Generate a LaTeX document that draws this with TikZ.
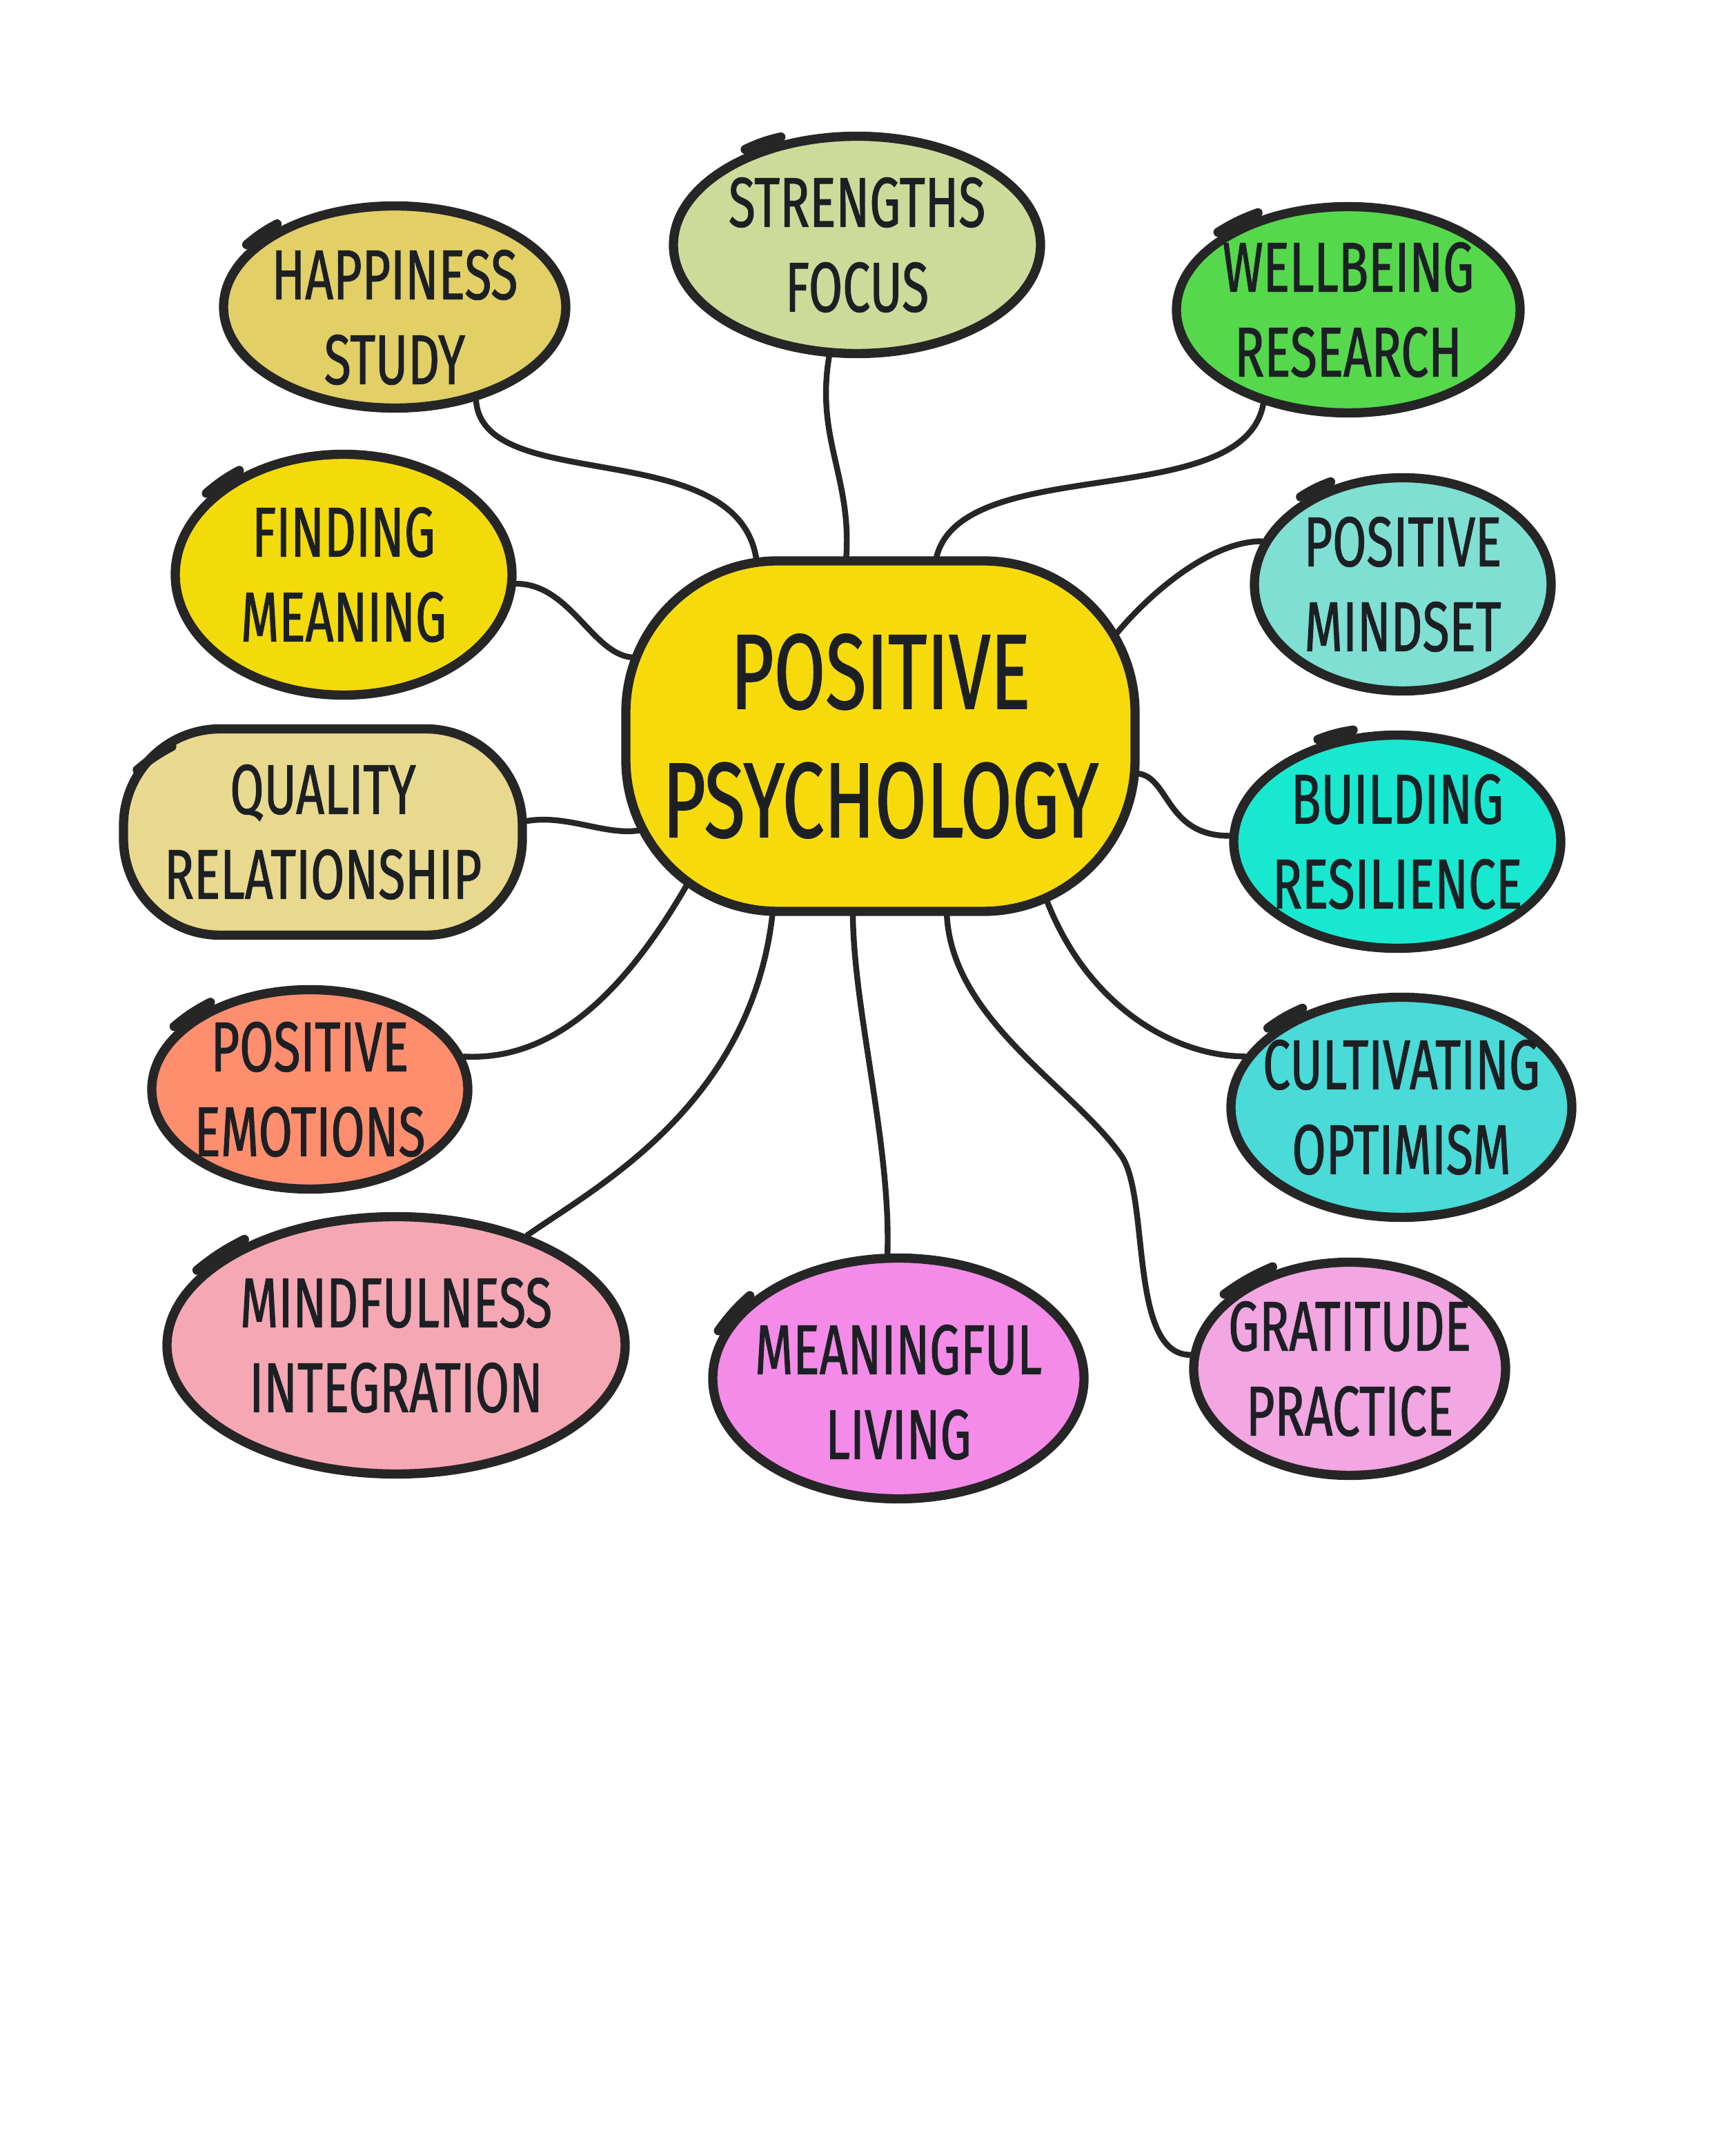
\documentclass[tikz,border=0pt]{standalone}
\usepackage{fontspec}
\usepackage{tikz}
\usetikzlibrary{shapes.geometric}
\newfontfamily\handfont{Fira Sans}[FakeStretch=0.70,FakeBold=1]
\definecolor{inkgray}{RGB}{38,38,38}
\definecolor{inkdark}{RGB}{28,32,36}
\definecolor{ppfill}{RGB}{246,218,12}
\definecolor{hsfill}{RGB}{226,207,102}
\definecolor{sffill}{RGB}{204,219,154}
\definecolor{wrfill}{RGB}{85,216,75}
\definecolor{fmfill}{RGB}{243,218,10}
\definecolor{pmfill}{RGB}{127,223,210}
\definecolor{qrfill}{RGB}{232,217,142}
\definecolor{brfill}{RGB}{25,232,208}
\definecolor{pefill}{RGB}{255,142,110}
\definecolor{cofill}{RGB}{74,218,216}
\definecolor{mifill}{RGB}{245,168,180}
\definecolor{mlfill}{RGB}{244,139,232}
\definecolor{gpfill}{RGB}{242,166,226}

\begin{document}
\begin{tikzpicture}[
    blob/.style={ellipse, draw=inkgray, line width=3.8pt, inner sep=0pt},
    tag/.style={align=center, text=inkdark, font=\handfont\fontsize{29}{35}\selectfont},
    link/.style={draw=inkgray, line width=2.4pt, line cap=round},
    tick/.style={draw=inkgray, line width=3.8pt, line cap=round}]
  \useasboundingbox (0,0) rectangle (25,31.25);

  % centre
  \node[draw=inkgray, line width=3.8pt, fill=ppfill, rounded corners=2.2cm,
        minimum width=7.38cm, minimum height=5.08cm] (pp) at (12.76,20.58) {};
  \node[tag, font=\handfont\fontsize{44}{53}\selectfont] (ppt) at (pp) {POSITIVE\\PSYCHOLOGY};

  % topics
  \node[blob, fill=hsfill, minimum width=4.96cm, minimum height=2.93cm] (hs) at (5.72,26.80) {};
  \node[blob, fill=sffill, minimum width=5.32cm, minimum height=3.15cm] (sf) at (12.42,27.70) {};
  \node[blob, fill=wrfill, minimum width=4.98cm, minimum height=2.99cm] (wr) at (19.54,26.76) {};
  \node[blob, fill=fmfill, minimum width=4.88cm, minimum height=3.49cm] (fm) at (4.98,22.92) {};
  \node[blob, fill=pmfill, minimum width=4.30cm, minimum height=3.09cm] (pm) at (20.33,22.78) {};
  \node[draw=inkgray, line width=3.8pt, fill=qrfill, rounded corners=1.4cm,
        minimum width=5.78cm, minimum height=2.99cm] (qr) at (4.68,19.19) {};
  \node[blob, fill=brfill, minimum width=4.74cm, minimum height=3.09cm] (br) at (20.25,19.05) {};
  \node[blob, fill=pefill, minimum width=4.58cm, minimum height=2.89cm] (pe) at (4.49,15.46) {};
  \node[blob, fill=cofill, minimum width=4.94cm, minimum height=3.19cm] (co) at (20.31,15.20) {};
  \node[blob, fill=mifill, minimum width=6.64cm, minimum height=3.73cm] (mi) at (5.74,11.75) {};
  \node[blob, fill=mlfill, minimum width=5.38cm, minimum height=3.49cm] (ml) at (13.02,11.27) {};
  \node[blob, fill=gpfill, minimum width=4.52cm, minimum height=3.09cm] (gp) at (19.56,11.41) {};

  % pen overshoots
  \foreach \n/\a/\b in {hs/158/146, sf/140/126, wr/150/134, fm/150/136, pm/140/126,
                        br/128/112, pe/156/140, co/150/136, mi/160/146, ml/166/152, gp/150/128}
    \draw[tick] ([shift={(-0.03,0.05)}]\n.\a) to[bend left=6] ([shift={(-0.01,0.06)}]\n.\b);
  \draw[tick] ([shift={(-2.69,0.9)}]qr.center) to[bend left=6] ([shift={(-2.19,1.24)}]qr.center);

  \node[tag] (hst) at ([yshift=-0.15cm]hs.center) {HAPPINESS\\STUDY};
  \node[tag] (sft) at (sf) {STRENGTHS\\FOCUS};
  \node[tag] (wrt) at (wr) {WELLBEING\\RESEARCH};
  \node[tag] (fmt) at (fm) {FINDING\\MEANING};
  \node[tag] (pmt) at (pm) {POSITIVE\\MINDSET};
  \node[tag] (qrt) at (qr) {QUALITY\\RELATIONSHIP};
  \node[tag] (brt) at (br) {BUILDING\\RESILIENCE};
  \node[tag] (pet) at (pe) {POSITIVE\\EMOTIONS};
  \node[tag] (cot) at (co) {CULTIVATING\\OPTIMISM};
  \node[tag] (mit) at (mi) {MINDFULNESS\\INTEGRATION};
  \node[tag] (mlt) at ([yshift=-0.2cm]ml.center) {MEANINGFUL\\LIVING};
  \node[tag] (gpt) at (gp) {GRATITUDE\\PRACTICE};

  % links
  \coordinate (gpbend) at (16.25,14.50);
  \draw[link] (hs.-49) .. controls +(0.1,-1.4) and +(-0.2,1.9) .. ([shift={(-1.79,2.5)}]pp.center);
  \draw[link] (sf.-104) .. controls +(-0.2,-1.2) and +(0.1,1.2) .. ([shift={(-0.5,2.54)}]pp.center);
  \draw[link] (wr.-132) .. controls +(-0.3,-1.6) and +(0.3,1.6) .. ([shift={(0.8,2.54)}]pp.center);
  \draw[link] (fm.-3) .. controls +(0.8,0) and +(-0.6,0) .. ([shift={(-3.56,1.14)}]pp.center);
  \draw[link] (pm.163) .. controls +(-0.8,0) and +(0.4,0.5) .. ([shift={(3.4,1.46)}]pp.center);
  \draw[link] ([yshift=0.16cm]qr.east) .. controls +(0.6,0.1) and +(-0.5,-0.1) .. ([shift={(-3.46,-1.36)}]pp.center);
  \draw[link] ([shift={(3.69,-0.54)}]pp.center) .. controls +(0.5,0) and +(-0.95,0) .. (br.178);
  \draw[link] (pe.12) .. controls +(1.2,-0.06) and +(-1.0,-1.74) .. ([shift={(-2.79,-2.13)}]pp.center);
  \draw[link] ([shift={(2.39,-2.33)}]pp.center) .. controls +(0.6,-1.6) and +(-1.0,0) .. (co.162);
  \draw[link] (mi.40) .. controls +(1.0,0.7) and +(-0.3,-2.8) .. ([shift={(-1.56,-2.54)}]pp.center);
  \draw[link] ([shift={(-0.4,-2.54)}]pp.center) .. controls +(0,-1.4) and +(0.05,1.6) .. (ml.95);
  \draw[link] ([shift={(0.96,-2.54)}]pp.center) .. controls +(0.04,-1.56) and +(-0.7,1.0) .. (gpbend)
    .. controls +(0.42,-0.6) and +(-0.9,0) .. (gp.175);
\end{tikzpicture}
\end{document}
